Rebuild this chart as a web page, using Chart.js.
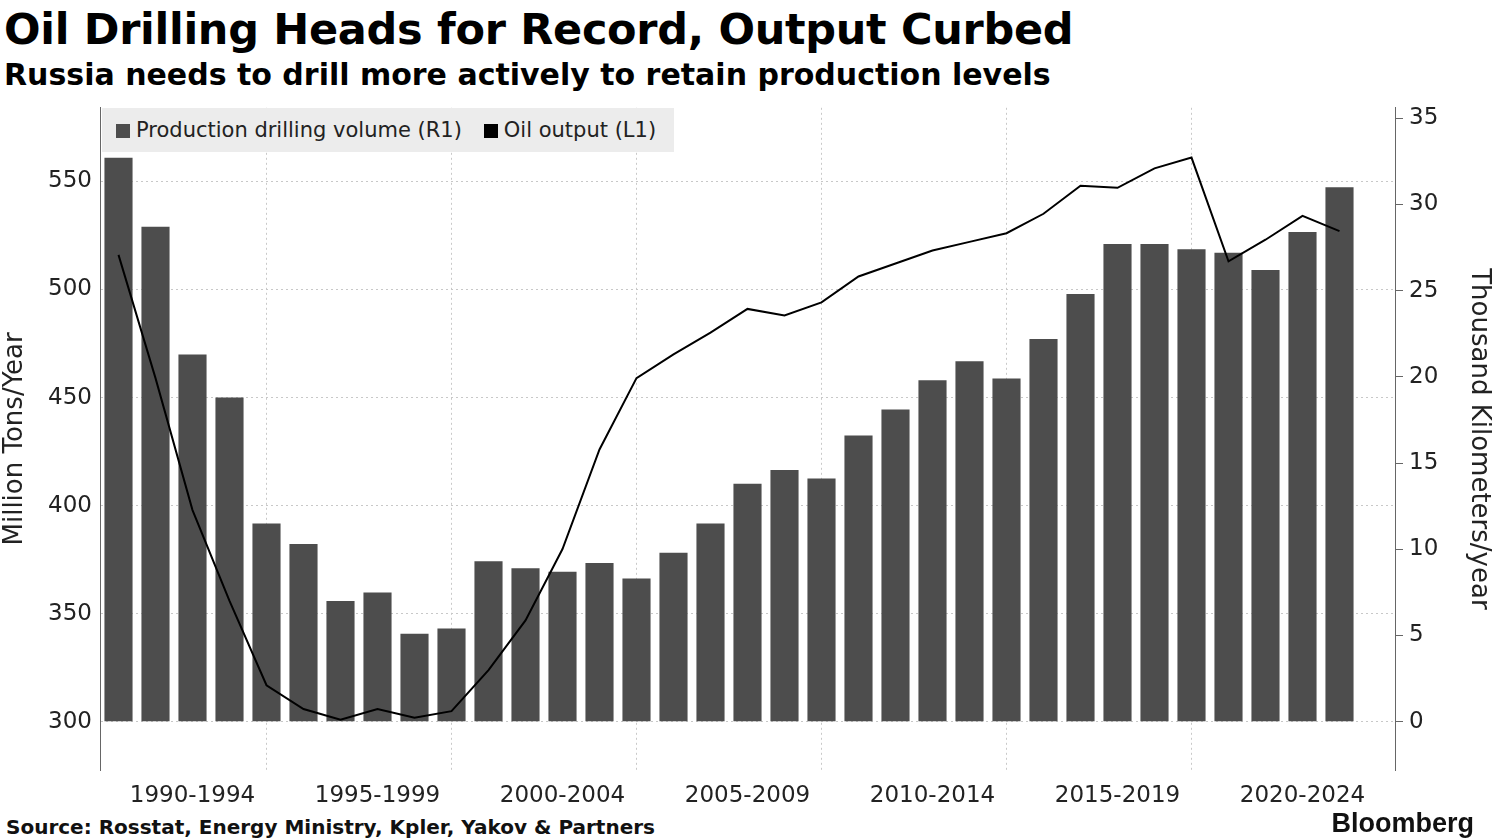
<!DOCTYPE html>
<html><head><meta charset="utf-8">
<script src="https://cdn.jsdelivr.net/npm/chart.js@4"></script>
<style>
body{margin:0;width:1494px;height:840px;background:#fff;position:relative;overflow:hidden;font-family:"DejaVu Sans",sans-serif;}
#t{position:absolute;left:4px;top:4px;font-size:43px;font-weight:bold;color:#000;letter-spacing:-0.3px}
#s{position:absolute;left:4px;top:57px;font-size:30px;font-weight:bold;color:#000}
#wrap{position:absolute;left:0;top:86px;width:1494px;height:726px}
#leg{position:absolute;left:102px;top:108px;width:572px;height:44px;background:#ececec;font-size:21px;color:#222;display:flex;align-items:center;gap:22px;padding-left:14px;box-sizing:border-box}
#leg span.b{display:inline-block;width:14px;height:14px;margin-right:6px;vertical-align:-1px}
#src{position:absolute;left:6px;top:815px;font-size:20px;font-weight:bold;color:#111}
#bb{position:absolute;right:20px;top:808px;font-size:27px;font-weight:bold;color:#111;font-family:"Liberation Sans",sans-serif}
</style></head><body>
<div id="t">Oil Drilling Heads for Record, Output Curbed</div>
<div id="s">Russia needs to drill more actively to retain production levels</div>
<div id="wrap"><canvas id="c"></canvas></div>
<div id="leg"><div><span class="b" style="background:#4d4d4d"></span>Production drilling volume (R1)</div><div><span class="b" style="background:#000"></span>Oil output (L1)</div></div>
<div id="src">Source: Rosstat, Energy Ministry, Kpler, Yakov &amp; Partners</div>
<div id="bb">Bloomberg</div>
<script>
const years=[1990,1991,1992,1993,1994,1995,1996,1997,1998,1999,2000,2001,2002,2003,2004,2005,2006,2007,2008,2009,2010,2011,2012,2013,2014,2015,2016,2017,2018,2019,2020,2021,2022,2023,2024];
const drilling=[32.7,28.7,21.3,18.8,11.5,10.3,7.0,7.5,5.1,5.4,9.3,8.9,8.7,9.2,8.3,9.8,11.5,13.8,14.6,14.1,16.6,18.1,19.8,20.9,19.9,22.2,24.8,27.7,27.7,27.4,27.2,26.2,28.4,31.0,null];
const output=[516,459,398,356,317,306,301,306,302,305,324,347,380,426,459,470,480,491,488,494,506,512,518,522,526,535,548,547,556,561,513,523,534,527,null];
const groupLabels={1992:"1990-1994",1997:"1995-1999",2002:"2000-2004",2007:"2005-2009",2012:"2010-2014",2017:"2015-2019",2022:"2020-2024"};
const tf={family:"DejaVu Sans",size:23};
new Chart(document.getElementById('c'),{
 data:{labels:years,datasets:[
  {type:'line',label:'Oil output (L1)',data:output,yAxisID:'yL',borderColor:'#000',borderWidth:2,pointRadius:0,tension:0,order:0},
  {type:'bar',label:'Production drilling volume (R1)',data:drilling,yAxisID:'yR',backgroundColor:'#4d4d4d',barPercentage:0.76,categoryPercentage:1,order:1}
 ]},
 options:{responsive:true,maintainAspectRatio:false,animation:false,
  plugins:{legend:{display:false},tooltip:{enabled:false}},
  scales:{
   x:{offset:true,border:{display:false,dash:[2,3]},
      grid:{drawTicks:false,color:c=>(years[c.index]%5===4&&years[c.index]<2024)?'#c8c8c8':'transparent',lineWidth:1,offset:false},
      ticks:{autoSkip:false,maxRotation:0,color:'#222',font:tf,padding:12,callback:(v,i)=>groupLabels[years[i]]||''},
      afterFit:s=>{s.height=42;}},
   yL:{position:'left',min:277.8,max:584,
      ticks:{stepSize:25,color:'#222',font:tf,padding:8,callback:v=>v%50===0?v:''},
      grid:{color:c=>c.tick&&c.tick.value%50===0?'#c8c8c8':'transparent',drawTicks:false},
      border:{display:true,color:'#666',dash:[2,3]},
      title:{display:true,text:'Million Tons/Year',color:'#222',font:{family:"DejaVu Sans",size:26},padding:0},
      afterFit:s=>{s.width=100;}},
   yR:{position:'right',min:-2.8,max:35.6,
      ticks:{stepSize:5,color:'#222',font:tf,padding:6},
      afterBuildTicks:s=>{s.ticks=[0,5,10,15,20,25,30,35].map(v=>({value:v}));},
      grid:{drawOnChartArea:false,drawTicks:true,tickLength:8,color:'#666'},
      border:{display:true,color:'#666'},
      title:{display:true,text:'Thousand Kilometers/year',color:'#222',font:{family:"DejaVu Sans",size:26},padding:0},
      afterFit:s=>{s.width=99;}}
  }}
});
</script></body></html>
